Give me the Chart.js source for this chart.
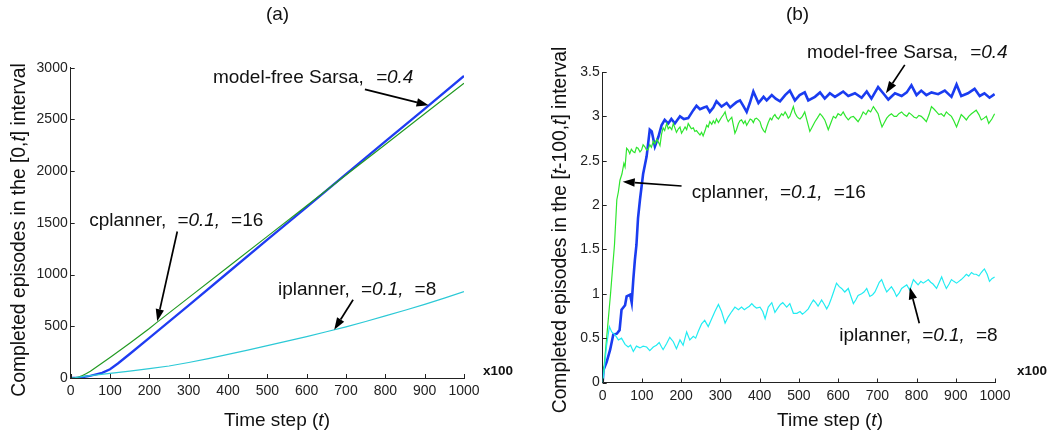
<!DOCTYPE html>
<html><head><meta charset="utf-8">
<script src="https://cdn.jsdelivr.net/npm/chart.js@4.4.1/dist/chart.umd.min.js"></script>
<style>
html,body{margin:0;padding:0;background:#fff;overflow:hidden;width:1050px;height:437px}
canvas{position:absolute;top:0}
#ca{left:0}
#cb{left:525px}
</style></head><body>
<canvas id="ca" width="525" height="437"></canvas>
<canvas id="cb" width="525" height="437"></canvas>
<script>
// ---------------- data: panel (a) cumulative episodes ----------------
const sarsaCumT = [0,20,45,80,100,120,150,200,220,300,400,500,600,700,800,900,1000];
const sarsaCumV = [0,3,17,50,85,140,232,388,450,703,1020,1337,1653,1970,2287,2603,2920];
const cplanCumT = [0,10,20,30,40,50,60,80,100,150,200,220,300,400,500,600,700,800,900,1000];
const cplanCumV = [0,2.5,10,24,43,66,92,145,198,335,478,540,777,1073,1369,1665,1962,2258,2554,2850];
const iplanCumT = [0,10,20,50,100,150,200,250,300,350,400,450,500,550,600,650,700,750,800,850,900,950,1000];
const iplanCumV = [0,2,8,23,44,66,90,116,150,188,228,270,313,356,400,447,495,546,600,655,712,772,835];

// ---------------- data: panel (b) episodes in [t-100,t] ----------------
const sarsaRateT = [0,2,10,19,27,36,43,48,57,61,70,74,78,82,86,90,95,103,112,120,125,133,142,150,158,167,175,184,197,207,218,231,239,248,258,265,273,282,290,303,316,325,333,341,350,358,367,375,384,397,410,418,431,441,452,465,477,490,502,515,524,541,554,566,579,592,603,613,626,643,660,673,685,702,715,728,745,762,775,787,800,812,825,838,855,872,889,902,914,931,948,961,973,986,999];
const sarsaRateV = [0,0.14,0.23,0.37,0.54,0.55,0.59,0.82,0.87,0.97,0.99,0.90,1.16,1.38,1.55,1.85,2.06,2.35,2.55,2.85,2.83,2.66,2.77,2.90,2.96,2.92,2.97,2.92,3.00,2.97,2.98,3.07,3.12,3.08,3.10,3.11,3.05,3.10,3.17,3.11,3.15,3.10,3.13,3.16,3.18,3.12,3.05,3.15,3.28,3.15,3.22,3.18,3.24,3.20,3.17,3.24,3.29,3.18,3.24,3.27,3.18,3.22,3.27,3.20,3.26,3.22,3.25,3.28,3.23,3.26,3.21,3.28,3.20,3.33,3.26,3.19,3.26,3.23,3.27,3.35,3.24,3.29,3.24,3.27,3.25,3.29,3.22,3.36,3.23,3.26,3.31,3.23,3.26,3.21,3.25];
const cplanRateT = [0,5,10,15,20,25,30,36,40,44,49,54,57,61,65,69,73,78,82,86,90,95,99,103,107,112,116,120,124,129,133,138,142,146,150,154,158,163,167,171,176,180,184,188,193,197,201,205,210,214,218,222,226,231,235,239,244,248,252,256,261,265,269,273,278,282,286,290,295,299,303,308,312,316,320,325,329,333,337,341,346,350,354,359,363,367,371,376,380,384,388,392,397,401,405,410,414,418,422,427,431,435,439,443,448,452,456,460,465,469,473,477,482,486,490,495,499,503,509,515,521,528,534,541,547,554,560,566,571,575,582,588,594,600,607,613,619,626,632,639,645,651,658,664,671,677,683,690,696,702,707,712,718,724,730,736,743,749,755,762,768,775,781,787,794,800,806,812,819,825,832,838,845,851,857,863,870,876,883,889,895,902,908,914,921,927,933,940,946,952,959,965,972,978,984,992,999];
const cplanRateV = [0,0.25,0.5,0.75,1.0,1.28,1.55,2.06,2.15,2.28,2.35,2.47,2.43,2.64,2.62,2.58,2.63,2.60,2.59,2.65,2.64,2.60,2.62,2.68,2.66,2.62,2.63,2.68,2.65,2.72,2.69,2.74,2.71,2.67,2.80,2.87,2.84,2.92,2.86,2.88,2.85,2.92,2.87,2.82,2.86,2.88,2.81,2.84,2.88,2.85,2.92,2.89,2.86,2.87,2.83,2.84,2.81,2.79,2.82,2.78,2.84,2.90,2.88,2.94,2.91,2.95,2.92,2.97,2.93,2.96,2.99,3.02,3.05,2.98,2.94,2.97,2.99,2.90,2.81,2.85,2.92,2.95,2.96,2.92,2.95,2.90,2.93,2.97,2.96,2.93,2.97,2.98,2.96,2.94,2.88,2.84,2.82,2.88,2.93,2.98,2.96,3.00,3.02,2.99,2.97,3.00,3.03,3.01,3.05,3.02,2.98,3.00,3.06,3.11,3.04,3.00,2.98,2.97,3.00,3.05,2.95,2.83,2.88,2.94,2.98,3.03,3.00,2.96,2.90,2.85,2.93,3.00,2.98,3.03,3.01,3.05,3.00,2.96,2.99,3.00,2.97,2.94,2.99,3.05,3.02,3.07,3.05,3.11,3.07,3.03,2.95,2.88,2.93,2.98,3.01,3.03,3.00,3.00,3.03,3.05,3.02,3.00,3.04,3.02,2.99,2.98,3.01,3.00,2.97,2.94,3.02,3.11,3.08,3.05,3.02,3.03,3.00,3.05,3.02,3.00,2.95,2.88,2.95,3.02,2.99,2.96,3.00,3.03,3.05,3.07,3.02,2.96,2.98,3.00,2.92,2.97,3.03];
const iplanRateT = [0,5,10,17,23,31,40,48,57,65,71,78,86,95,103,112,120,129,137,144,150,154,163,171,180,188,197,205,214,222,231,237,244,252,260,269,277,286,295,303,312,320,329,337,346,354,361,367,374,380,386,392,401,408,414,422,431,439,448,453,459,469,477,486,495,503,509,515,524,530,537,543,549,558,565,571,577,583,590,596,603,609,617,626,632,639,645,651,660,666,673,681,688,694,700,705,711,718,724,730,736,743,749,756,762,768,775,783,792,798,804,811,817,824,830,836,842,851,858,864,870,876,883,889,895,902,908,914,921,927,933,940,946,952,959,965,969,973,980,986,992,999];
const iplanRateV = [0,0.2,0.42,0.63,0.57,0.54,0.48,0.50,0.43,0.40,0.42,0.35,0.41,0.39,0.41,0.40,0.36,0.40,0.42,0.45,0.40,0.37,0.44,0.51,0.46,0.38,0.48,0.42,0.57,0.48,0.52,0.50,0.58,0.66,0.70,0.63,0.71,0.80,0.88,0.80,0.67,0.74,0.80,0.85,0.82,0.85,0.82,0.84,0.86,0.89,0.86,0.84,0.85,0.80,0.72,0.85,0.90,0.79,0.85,0.88,0.90,0.85,0.89,0.78,0.78,0.80,0.77,0.79,0.83,0.88,0.93,0.90,0.86,0.93,0.88,0.83,0.88,0.95,1.04,1.12,1.08,1.06,1.02,1.06,0.98,0.89,0.93,0.98,1.00,1.02,1.06,0.97,0.99,1.02,1.08,1.13,1.16,1.08,1.02,1.05,1.08,1.03,0.97,1.01,1.06,1.08,1.10,1.04,1.16,1.13,1.10,1.14,1.12,1.14,1.16,1.13,1.11,1.06,1.13,1.19,1.12,1.06,1.11,1.16,1.14,1.12,1.14,1.16,1.19,1.22,1.20,1.24,1.22,1.22,1.20,1.24,1.26,1.28,1.22,1.14,1.17,1.19];

// ---------------- helpers ----------------
const FONT = '"Liberation Sans", Arial, Helvetica, sans-serif';
const pts = (T, V) => T.map((t, i) => ({x: t, y: V[i]}));

function runsWidth(ctx, runs, size) {
  let w = 0;
  for (const r of runs) {
    if (typeof r === 'number') { w += r; continue; }
    ctx.font = (r[1] || '') + ' ' + size + 'px ' + FONT;
    w += ctx.measureText(r[0]).width;
  }
  return w;
}
function drawRuns(ctx, runs, x, y, size, align) {
  const w = runsWidth(ctx, runs, size);
  let cx = align === 'center' ? x - w / 2 : x;
  ctx.textBaseline = 'middle';
  ctx.textAlign = 'left';
  for (const r of runs) {
    if (typeof r === 'number') { cx += r; continue; }
    ctx.font = (r[1] || '') + ' ' + size + 'px ' + FONT;
    ctx.fillText(r[0], cx, y);
    cx += ctx.measureText(r[0]).width;
  }
}
function drawArrow(ctx, x1, y1, x2, y2) {
  const ang = Math.atan2(y2 - y1, x2 - x1);
  const L = 12, W = 4.2;
  const bx = x2 - L * Math.cos(ang), by = y2 - L * Math.sin(ang);
  ctx.strokeStyle = '#000'; ctx.fillStyle = '#000'; ctx.lineWidth = 1.7;
  ctx.beginPath(); ctx.moveTo(x1, y1); ctx.lineTo(bx, by); ctx.stroke();
  ctx.beginPath();
  ctx.moveTo(x2, y2);
  ctx.lineTo(bx + W * Math.sin(ang), by - W * Math.cos(ang));
  ctx.lineTo(bx - W * Math.sin(ang), by + W * Math.cos(ang));
  ctx.closePath(); ctx.fill();
}

const decoPlugin = {
  id: 'deco',
  afterDraw(chart) {
    const d = chart.options.plugins.deco;
    const ctx = chart.ctx, xs = chart.scales.x, ys = chart.scales.y;
    const ca = chart.chartArea;
    ctx.save();
    // inward tick marks
    ctx.strokeStyle = '#222'; ctx.lineWidth = 1;
    xs.ticks.forEach(t => {
      const px = Math.round(xs.getPixelForValue(t.value)) + 0.5;
      ctx.beginPath(); ctx.moveTo(px, ca.bottom); ctx.lineTo(px, ca.bottom - 4); ctx.stroke();
    });
    ys.ticks.forEach(t => {
      const py = Math.round(ys.getPixelForValue(t.value)) + 0.5;
      ctx.beginPath(); ctx.moveTo(ca.left, py); ctx.lineTo(ca.left + 4, py); ctx.stroke();
    });
    ctx.fillStyle = '#111';
    // panel title
    drawRuns(ctx, [[d.title, '']], d.titlePos[0], d.titlePos[1], 19, 'center');
    // x axis title
    drawRuns(ctx, [['Time step (', ''], ['t', 'italic'], [')', '']], d.xTitlePos[0], d.xTitlePos[1], 19, 'center');
    // y axis title (rotated)
    ctx.save();
    ctx.translate(d.yTitlePos[0], d.yTitlePos[1]);
    ctx.rotate(-Math.PI / 2);
    drawRuns(ctx, d.yTitleRuns, 0, 0, 19.3, 'center');
    ctx.restore();
    // x100 multiplier
    ctx.fillStyle = '#111';
    drawRuns(ctx, [['x100', 'bold']], d.x100Pos[0], d.x100Pos[1], 13.5, 'center');
    // annotations
    d.notes.forEach(n => {
      ctx.fillStyle = '#111';
      drawRuns(ctx, n.runs, xs.getPixelForValue(n.at[0]), ys.getPixelForValue(n.at[1]), 19, 'left');
      drawArrow(ctx, xs.getPixelForValue(n.tail[0]), ys.getPixelForValue(n.tail[1]),
                     xs.getPixelForValue(n.head[0]), ys.getPixelForValue(n.head[1]));
    });
    ctx.restore();
  }
};

function makeChart(id, datasets, yMax, yStep, geom, deco) {
  const tickFont = {family: FONT, size: 14};
  return new Chart(document.getElementById(id), {
    type: 'line',
    data: {datasets},
    options: {
      responsive: false, animation: false, devicePixelRatio: 1,
      layout: {padding: {top: geom.padTop, right: geom.padRight, left: 0, bottom: 0}},
      elements: {point: {radius: 0}, line: {tension: 0}},
      plugins: {legend: {display: false}, tooltip: {enabled: false}, deco},
      scales: {
        x: {
          type: 'linear', min: 0, max: 1000,
          grid: {display: false, drawTicks: false},
          border: {display: true, color: '#222', width: 1},
          ticks: {stepSize: 100, padding: 5, color: '#222', font: tickFont, maxRotation: 0, autoSkip: false,
                  callback: v => String(v)},
          afterFit: s => { s.height = geom.xHeight; }
        },
        y: {
          type: 'linear', min: 0, max: yMax,
          grid: {display: false, drawTicks: false},
          border: {display: true, color: '#222', width: 1},
          ticks: {stepSize: yStep, padding: 3, color: '#222', font: tickFont, autoSkip: false,
                  callback: v => String(v)},
          afterFit: s => { s.width = geom.yWidth; }
        }
      }
    },
    plugins: [decoPlugin]
  });
}

// ---------------- panel (a) ----------------
makeChart('ca', [
  {data: pts(iplanCumT, iplanCumV), borderColor: '#2cc9d6', borderWidth: 1.2},
  {data: pts(cplanCumT, cplanCumV), borderColor: '#239a23', borderWidth: 1.2},
  {data: pts(sarsaCumT, sarsaCumV), borderColor: '#1f3cf2', borderWidth: 2.3}
], 3000, 500,
{padTop: 67.7, padRight: 61, xHeight: 59, yWidth: 70.7},
{
  title: '(a)', titlePos: [277.5, 15],
  xTitlePos: [277, 421], yTitlePos: [20, 230],
  yTitleRuns: [['Completed episodes in the [0,', ''], ['t', 'italic'], ['] interval', '']],
  x100Pos: [498, 371.5],
  notes: [
    {runs: [['model-free Sarsa,', ''], 12, ['=0.4', 'italic']], at: [361.5, 2900], tail: [748, 2791], head: [910, 2637]},
    {runs: [['cplanner,', ''], 11, ['=0.1,', 'italic'], 11, ['=16', '']], at: [47, 1519], tail: [271, 1416], head: [220, 549]},
    {runs: [['iplanner,', ''], 11, ['=0.1,', 'italic'], 11, ['=8', '']], at: [527, 853], tail: [718, 756], head: [670, 467]}
  ]
});

// ---------------- panel (b) ----------------
makeChart('cb', [
  {data: pts(iplanRateT, iplanRateV), borderColor: '#22ecf2', borderWidth: 1.2},
  {data: pts(cplanRateT, cplanRateV), borderColor: '#2ee62e', borderWidth: 1.2},
  {data: pts(sarsaRateT, sarsaRateV), borderColor: '#1a3cf0', borderWidth: 2.6}
], 3.5, 0.5,
{padTop: 72, padRight: 55, xHeight: 54.5, yWidth: 77.7},
{
  title: '(b)', titlePos: [272.5, 15],
  xTitlePos: [305, 421], yTitlePos: [35.5, 230],
  yTitleRuns: [['Completed episodes in the [', ''], ['t', 'italic'], ['-100,', ''], ['t', 'italic'], ['] interval', '']],
  x100Pos: [507, 371.5],
  notes: [
    {runs: [['model-free Sarsa,', ''], 12, ['=0.4', 'italic']], at: [521, 3.715], tail: [770, 3.58], head: [722, 3.26]},
    {runs: [['cplanner,', ''], 11, ['=0.1,', 'italic'], 11, ['=16', '']], at: [227, 2.136], tail: [201, 2.215], head: [51, 2.264]},
    {runs: [['iplanner,', ''], 11, ['=0.1,', 'italic'], 11, ['=8', '']], at: [603, 0.524], tail: [807, 0.667], head: [783, 1.073]}
  ]
});
</script>
</body></html>
